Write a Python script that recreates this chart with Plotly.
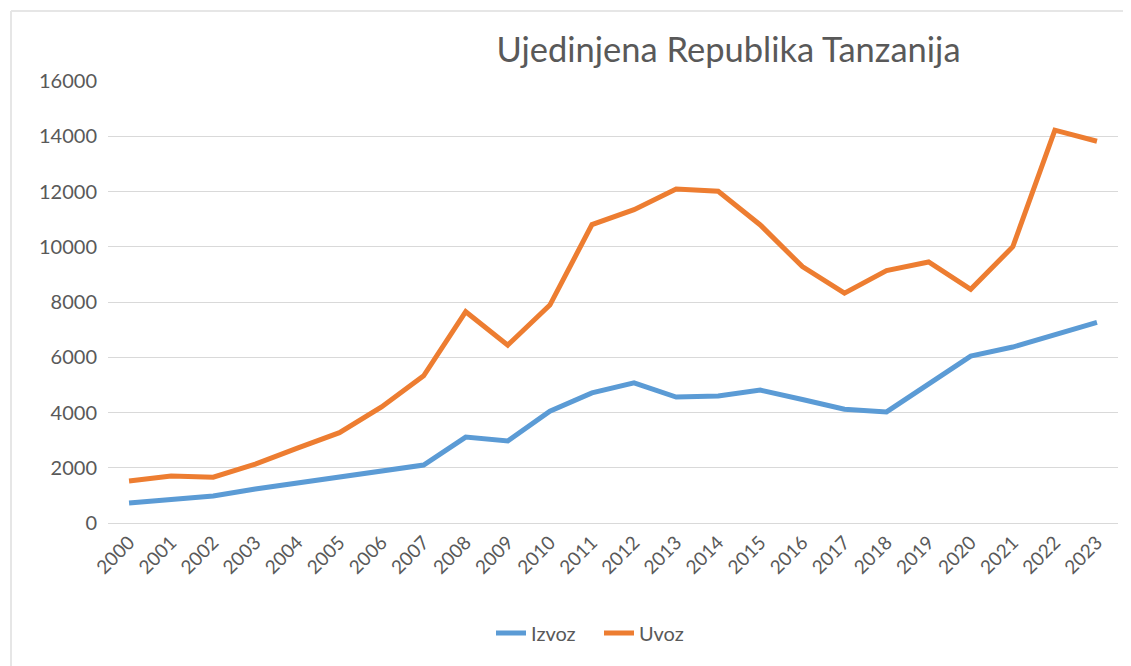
import plotly.graph_objects as go

years = [str(y) for y in range(2000, 2024)]
izvoz = [720, 830, 980, 1230, 1450, 1670, 1880, 2100, 3110, 2970, 4050, 4710,
         5070, 4560, 4600, 4810, 4470, 4120, 4020, 5030, 6040, 6370, 6800, 7260]
uvoz = [1520, 1700, 1660, 2130, 2710, 3270, 4200, 5330, 7650, 6440, 7890, 10800,
        11340, 12090, 12010, 10790, 9280, 8320, 9140, 9450, 8460, 10000, 14220, 13820]
y_ticks = [0, 2000, 4000, 6000, 8000, 10000, 12000, 14000, 16000]
y_labels = [str(v) for v in y_ticks]

# page body has an 8px default margin, so the figure is placed at (8, 8)
OFF = 8
W, H = 1131 - OFF, 666 - OFF
L, R, T, B = 108 - OFF, 13, 81 - OFF, 143
plot_w = W - L - R
plot_h = H - T - B

def px_x(p):
    return (p - OFF - L) / plot_w

def px_y(p):
    return (H - B - (p - OFF)) / plot_h

font_family = "Lato, Open Sans, sans-serif"
grey = "#595959"

fig = go.Figure()
fig.add_trace(go.Scatter(x=years, y=izvoz, mode="lines", name="Izvoz",
                         line=dict(color="#5B9BD5", width=5)))
fig.add_trace(go.Scatter(x=years, y=uvoz, mode="lines", name="Uvoz",
                         line=dict(color="#ED7D31", width=5)))

fig.update_layout(
    width=W, height=H,
    margin=dict(l=L, r=R, t=T, b=B),
    paper_bgcolor="white", plot_bgcolor="white",
    font=dict(family=font_family, color=grey, size=19),
    title=dict(text="Ujedinjena Republika Tanzanija", x=(728.5 - OFF) / W, xref="container",
               xanchor="center", y=1 - (50 - OFF) / H, yref="container", yanchor="middle",
               font=dict(size=34.5, color=grey, family=font_family)),
    showlegend=True,
    legend=dict(orientation="h", x=px_x(491), xanchor="left", y=px_y(633),
                yanchor="middle", font=dict(size=20, color=grey),
                itemwidth=30, tracegroupgap=0, entrywidth=63, entrywidthmode="pixels"),
    xaxis=dict(type="category", range=[-0.5, 23.5], showgrid=False, showline=True,
               linecolor="#D9D9D9", linewidth=1, ticks="", tickangle=-45,
               tickfont=dict(size=19, color=grey)),
    yaxis=dict(range=[0, 16000], tickvals=y_ticks, ticktext=y_labels, showgrid=True,
               gridcolor="#D9D9D9", gridwidth=1, zeroline=False, showline=False,
               ticks="", ticklabelstandoff=10, tickfont=dict(size=20, color=grey)),
    shapes=[
        dict(type="line", xref="paper", yref="paper", x0=px_x(11), x1=px_x(1140),
             y0=px_y(11), y1=px_y(11), line=dict(color="#E6E6E6", width=2)),
        dict(type="line", xref="paper", yref="paper", x0=px_x(11), x1=px_x(11),
             y0=px_y(11), y1=px_y(680), line=dict(color="#E6E6E6", width=2)),
    ],
)

fig.write_html("out.html")
